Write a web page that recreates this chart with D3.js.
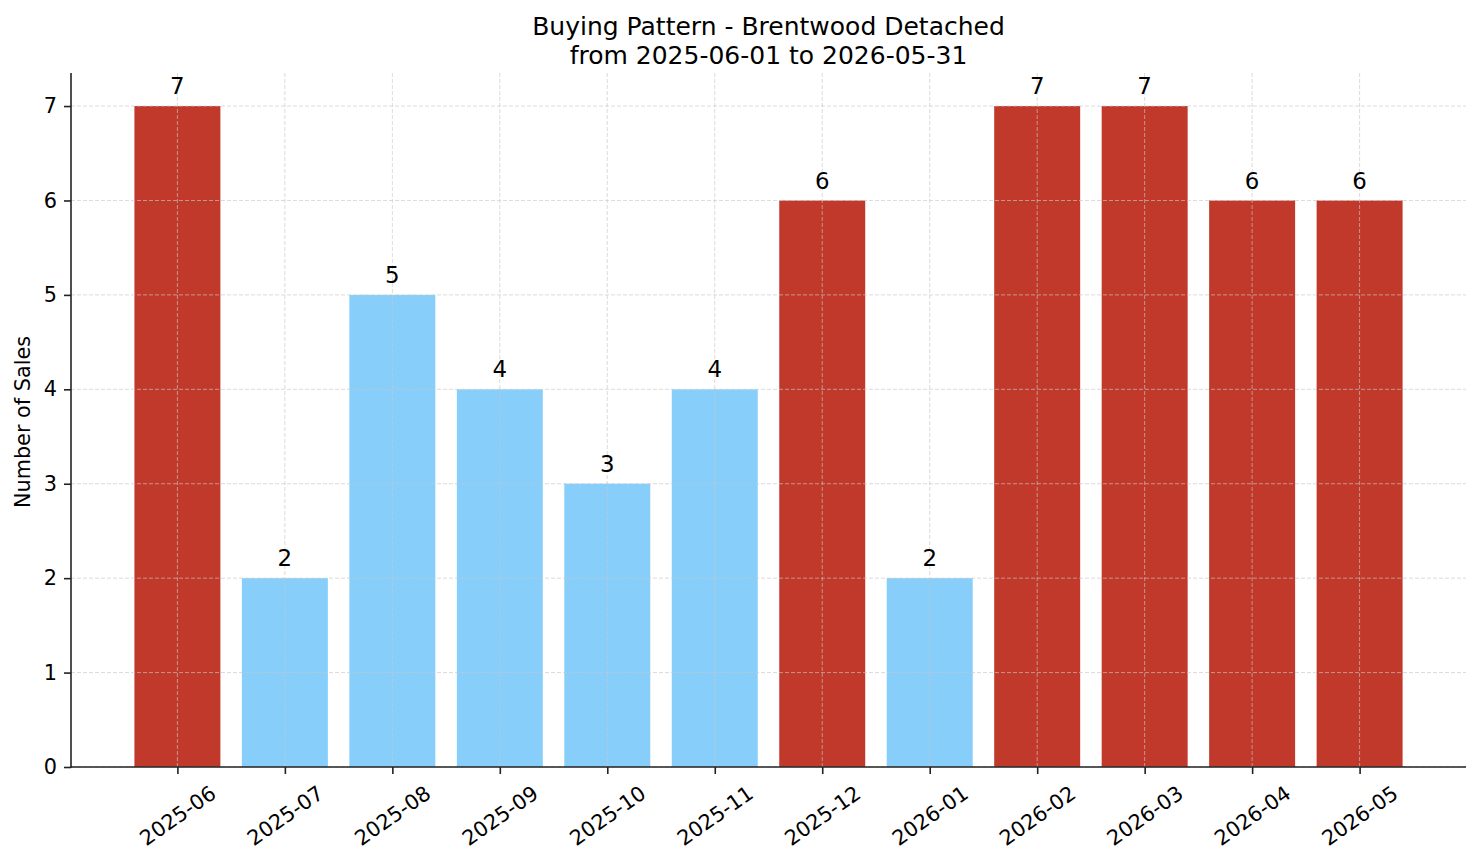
<!DOCTYPE html>
<html>
<head>
<meta charset="utf-8">
<script src="https://cdn.jsdelivr.net/npm/d3@7"></script>
<style>
  body { margin: 0; background: #fff; }
  svg { font-family: "DejaVu Sans", sans-serif; }
</style>
</head>
<body>
<svg id="chart" width="1481" height="863"></svg>
<script>
// monthly sales counts
var months = ["2025-06", "2025-07", "2025-08", "2025-09", "2025-10", "2025-11",
              "2025-12", "2026-01", "2026-02", "2026-03", "2026-04", "2026-05"];
var sales = [7, 2, 5, 4, 3, 4, 6, 2, 7, 7, 6, 6];
var yTicks = [0, 1, 2, 3, 4, 5, 6, 7];
var titleLines = ["Buying Pattern - Brentwood Detached", "from 2025-06-01 to 2026-05-31"];

var hot = "#c0392b", cool = "#87cefa";

var svg = d3.select("#chart");
var plotL = 71, plotR = 1466, plotT = 73, plotB = 767;

var x = d3.scaleLinear().domain([-0.99, 11.99]).range([plotL, plotR]);
var y = d3.scaleLinear().domain([0, 7.35]).range([plotB, plotT]);

// bars
svg.selectAll("rect.bar")
    .data(sales)
    .enter()
    .append("rect")
    .attr("class", "bar")
    .attr("x", function(d, i) { return x(i - 0.4); })
    .attr("width", x(0.4) - x(-0.4))
    .attr("y", function(d) { return y(d); })
    .attr("height", function(d) { return y(0) - y(d); })
    .style("fill", function(d) { return d >= 6 ? hot : cool; });

// grid (drawn above bars, like the source)
var grid = svg.append("g")
    .style("stroke", "#c8c8c8")
    .style("stroke-opacity", 0.65)
    .style("stroke-width", 1)
    .style("stroke-dasharray", "4,2");
grid.selectAll("line.gx")
    .data(months)
    .enter()
    .append("line")
    .attr("x1", function(d, i) { return x(i); })
    .attr("x2", function(d, i) { return x(i); })
    .attr("y1", plotT)
    .attr("y2", plotB);
grid.selectAll("line.gy")
    .data(yTicks)
    .enter()
    .append("line")
    .attr("x1", plotL)
    .attr("x2", plotR)
    .attr("y1", function(d) { return y(d); })
    .attr("y2", function(d) { return y(d); });

// value labels
svg.selectAll("text.val")
    .data(sales)
    .enter()
    .append("text")
    .attr("x", function(d, i) { return x(i); })
    .attr("y", function(d) { return y(d + 0.1) - 2.5; })
    .attr("text-anchor", "middle")
    .style("font-size", "22.9px")
    .text(function(d) { return d; });

// y axis
var yAxis = svg.append("g")
    .attr("transform", "translate(" + plotL + ",0)")
    .call(d3.axisLeft(y).tickValues(yTicks).tickFormat(d3.format("d")).tickSize(7).tickPadding(7));
yAxis.select(".domain").remove();
yAxis.selectAll("text").style("font-size", "20.8px").style("font-family", "DejaVu Sans");

// x axis
var xAxis = svg.append("g")
    .attr("transform", "translate(0," + plotB + ")")
    .call(d3.axisBottom(x).tickValues(d3.range(months.length)).tickFormat(function(i) { return months[i]; }).tickSize(7));
xAxis.select(".domain").remove();
xAxis.selectAll("line").style("stroke", "#222").style("stroke-width", 1.6);
yAxis.selectAll("line").style("stroke", "#222").style("stroke-width", 1.6);

var ang = 35 * Math.PI / 180;
xAxis.selectAll("text")
    .style("font-size", "20.8px")
    .style("font-family", "DejaVu Sans")
    .attr("dy", null)
    .each(function(d) {
        var t = d3.select(this);
        var w = this.getComputedTextLength();
        var h = 20.8 * 1.16;
        var bh = w * Math.sin(ang) + h * Math.cos(ang);
        var cy = 14 + bh / 2;
        t.attr("y", 0)
         .attr("text-anchor", "middle")
         .attr("dominant-baseline", "central")
         .attr("transform", "translate(0," + cy + ") rotate(-35)");
    });

// spines
svg.append("line")
    .attr("x1", plotL).attr("x2", plotL).attr("y1", plotT).attr("y2", plotB + 0.8)
    .style("stroke", "#222").style("stroke-width", 1.6);
svg.append("line")
    .attr("x1", plotL - 0.8).attr("x2", plotR).attr("y1", plotB).attr("y2", plotB)
    .style("stroke", "#222").style("stroke-width", 1.6);

// y label
svg.append("text")
    .attr("transform", "translate(23," + ((plotT + plotB) / 2 + 2) + ") rotate(-90)")
    .attr("text-anchor", "middle")
    .attr("dominant-baseline", "central")
    .style("font-size", "20.8px")
    .text("Number of Sales");

// title
svg.selectAll("text.title")
    .data(titleLines)
    .enter()
    .append("text")
    .attr("class", "title")
    .attr("x", (plotL + plotR) / 2)
    .attr("y", function(d, i) { return 35 + i * 28.5; })
    .attr("text-anchor", "middle")
    .style("font-size", "25px")
    .text(function(d) { return d; });
</script>
</body>
</html>
